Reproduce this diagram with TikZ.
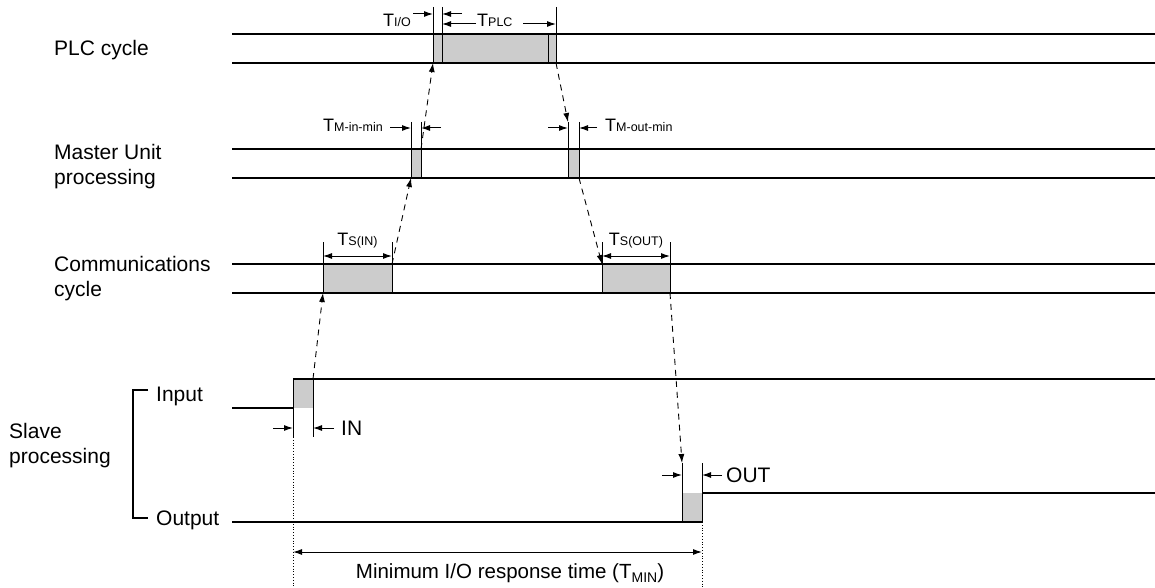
\documentclass[tikz,border=0pt]{standalone}
\usepackage{fontspec}
\setmainfont{Liberation Sans}
\usetikzlibrary{arrows.meta}
\tikzset{
  sigline/.style={line width=1.8pt},
  edgeline/.style={line width=0.9pt},
  busyfill/.style={fill=black!20},
  flowarrow/.style={dash pattern=on 6pt off 5pt, line width=0.9pt, -{Latex[length=9pt,width=6pt]}},
  dimarrow/.style={line width=1pt, -{Latex[length=9pt,width=6pt]}},
  dimboth/.style={line width=1pt, {Latex[length=9pt,width=6pt]}-{Latex[length=9pt,width=6pt]}},
  rowlabel/.style={font=\fontsize{21}{25}\selectfont, align=left, inner sep=0pt, anchor=west},
  timelabel/.style={font=\fontsize{18}{20}\selectfont, inner sep=0pt},
}
\newcommand{\tname}[1]{T{\fontsize{12.5}{14}\selectfont #1}}
\begin{document}
\begin{tikzpicture}[x=1pt,y=-1pt]
\useasboundingbox (0,0) rectangle (1155,588);
\node[rowlabel] (plc) at (54,50) {PLC cycle};
\node[rowlabel] (master) at (54,167) {Master Unit\\processing};
\node[rowlabel] (comm) at (54,279) {Communications\\cycle};
\node[rowlabel] (slave) at (9,446) {Slave\\processing};
\node[rowlabel] (input) at (156,396) {Input};
\node[rowlabel] (output) at (156,520) {Output};
\draw[line width=1.2pt] (148,390) -- (133,390) -- (133,518) -- (148,518);
\foreach \bname/\xa/\xb/\ya/\yb in {plcbox/433/556/34/63, minbox/411/421/149/178, moutbox/568/579/149/178,
    csinbox/323/392/264/293, csoutbox/602/670/264/293, inbox/293/313/379/408, outbox/682/702/493/522} {
  \fill[busyfill] (\xa,\ya) coordinate (\bname-nw) rectangle (\xb,\yb) coordinate (\bname-se);
  \coordinate (\bname-ne) at (\xb,\ya);
  \coordinate (\bname-sw) at (\xa,\yb);
}
\foreach \y in {34,63,149,178,264,293} {
  \draw[sigline] (232,\y) -- (1155,\y);
}
\draw[sigline] (232,408) -- (inbox-sw);
\draw[sigline] (inbox-nw) -- (1155,379);
\draw[sigline] (232,522) -- (outbox-se);
\draw[sigline] (outbox-ne) -- (1155,493);
\foreach \x/\ya/\yb in {433/7/63, 442/7/63, 548/34/63, 556/7/63, 411/122/178, 421/122/178, 568/122/178, 579/122/178,
    323/242/293, 392/242/293, 602/242/293, 670/242/293, 293/379/437, 313/379/437, 682/463/522, 702/463/522} {
  \draw[edgeline] (\x,\ya) -- (\x,\yb);
}
\draw[line width=0.8pt, dotted] (293,437) -- (293,588);
\draw[line width=0.8pt, dotted] (702,522) -- (702,588);
\coordinate (mouttick) at (568,122);
\coordinate (outtick) at (682,463);
\node[timelabel, anchor=base east] (tio) at (411,27) {\tname{I/O}};
\node[timelabel, anchor=base west] (tplc) at (477,27) {\tname{PLC}};
\node[timelabel, anchor=base east] (tmin) at (383,132) {\tname{M-in-min}};
\node[timelabel, anchor=base west] (tmout) at (605,132) {\tname{M-out-min}};
\node[timelabel, anchor=base] (tsin) at (357.5,245.5) {\tname{S(IN)}};
\node[timelabel, anchor=base] (tsout) at (636,245.5) {\tname{S(OUT)}};
\node[rowlabel] (inlbl) at (341,428) {IN};
\node[rowlabel] (outlbl) at (726,475) {OUT};
\node[font=\fontsize{20.5}{24}\selectfont, inner sep=0pt] (tresp) at (510,573)
  {Minimum I/O response time (T\raisebox{-0.35ex}{\fontsize{14}{16}\selectfont MIN})};
\draw[dimarrow] (413,14) -- (433,14);
\draw[dimarrow] (462,14) -- (442,14);
\draw[dimarrow] (476,24) -- (442,24);
\draw[dimarrow] (523,24) -- (556,24);
\draw[dimarrow] (390,128) -- (411,128);
\draw[dimarrow] (441,128) -- (421,128);
\draw[dimarrow] (548,128) -- (568,128);
\draw[dimarrow] (597,128) -- (579,128);
\draw[dimboth] (323,256) -- (392,256);
\draw[dimboth] (602,256) -- (670,256);
\draw[dimarrow] (273,428) -- (293,428);
\draw[dimarrow] (334,428) -- (313,428);
\draw[dimarrow] (662,475) -- (682,475);
\draw[dimarrow] (722,475) -- (702,475);
\draw[dimboth] (293,552) -- (702,552);
\draw[flowarrow] (inbox-ne) -- (csinbox-sw);
\draw[flowarrow] (csinbox-ne) -- (minbox-sw);
\draw[flowarrow] (minbox-ne) -- (plcbox-sw);
\draw[flowarrow] (plcbox-se) -- (mouttick);
\draw[flowarrow] (moutbox-se) -- (csoutbox-nw);
\draw[flowarrow] (csoutbox-se) -- (outtick);
\end{tikzpicture}
\end{document}
